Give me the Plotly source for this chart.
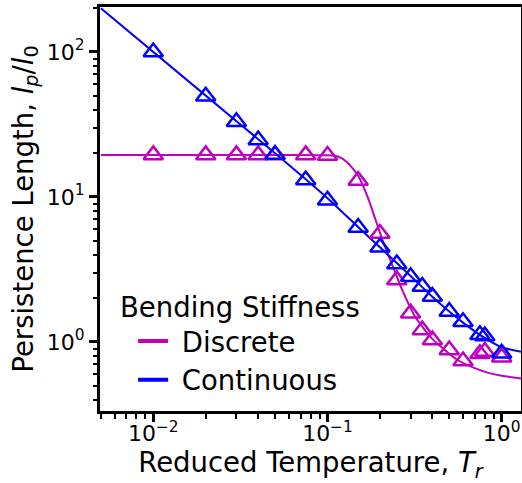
import plotly.graph_objects as go

# ---- data ----
T_cont = [0.01, 0.02, 0.03, 0.04, 0.05, 0.075, 0.1, 0.15, 0.2, 0.25, 0.3, 0.35, 0.4, 0.5, 0.6, 0.75, 0.8, 1.0]
lp_cont = [100, 49.5, 33, 24.7, 19.6, 13.1, 9.5, 6.15, 4.5, 3.45, 2.82, 2.41, 2.06, 1.62, 1.38, 1.12, 1.1, 0.835]

T_disc = [0.01, 0.02, 0.03, 0.04, 0.05, 0.075, 0.1, 0.15, 0.2, 0.25, 0.3, 0.35, 0.4, 0.5, 0.6, 0.75, 0.8, 1.0]
lp_disc = [19.5, 19.5, 19.5, 19.5, 19.5, 19.5, 19.3, 13.0, 5.6, 2.68, 1.58, 1.21, 1.03, 0.88, 0.74, 0.83, 0.86, 0.785]

# fitted curves
T_fit_cont = [0.005, 0.02, 0.05, 0.1, 0.15, 0.2, 0.25, 0.3, 0.4, 0.5, 0.6, 0.75, 1.0, 1.3]
lp_fit_cont = [200, 50, 20, 9.8, 6.2, 4.5, 3.5, 2.85, 2.05, 1.62, 1.36, 1.12, 0.92, 0.855]

T_fit_disc = [0.005, 0.05, 0.1, 0.115, 0.13, 0.15, 0.17, 0.19, 0.21, 0.24, 0.27, 0.32, 0.4, 0.55, 0.7, 0.85, 1.0, 1.3]
lp_fit_disc = [19.5, 19.5, 19.4, 19.0, 17.3, 14.0, 10.0, 6.8, 4.8, 3.2, 2.25, 1.48, 1.05, 0.76, 0.66, 0.61, 0.585, 0.56]

x_tickvals = [0.01, 0.1, 1]
x_ticktext = ["10<sup>−2</sup>", "10<sup>−1</sup>", "10<sup>0</sup>"]
y_tickvals = [1, 10, 100]
y_ticktext = ["10<sup>0</sup>", "10<sup>1</sup>", "10<sup>2</sup>"]

legend_title = "Bending Stiffness"
names = ["Discrete", "Continuous"]

MAG = "#BF00BF"
BLU = "#0000FF"
FONT = "DejaVu Sans"

fig = go.Figure()

# lines
fig.add_trace(go.Scatter(x=T_fit_disc, y=lp_fit_disc, mode="lines",
                         line=dict(color=MAG, width=2, shape="spline", smoothing=0.6),
                         showlegend=False, hoverinfo="skip"))
fig.add_trace(go.Scatter(x=T_fit_cont, y=lp_fit_cont, mode="lines",
                         line=dict(color=BLU, width=2, shape="spline", smoothing=0.6),
                         showlegend=False, hoverinfo="skip"))
# markers
fig.add_trace(go.Scatter(x=T_disc, y=lp_disc, mode="markers",
                         marker=dict(symbol="triangle-up-open", size=17, color=MAG,
                                     line=dict(width=2.5, color=MAG)),
                         showlegend=False))
fig.add_trace(go.Scatter(x=T_cont, y=lp_cont, mode="markers",
                         marker=dict(symbol="triangle-up-open", size=17, color=BLU,
                                     line=dict(width=2.5, color=BLU)),
                         showlegend=False))
# legend entries
fig.add_trace(go.Scatter(x=[None], y=[None], mode="lines", name="&nbsp;" + names[0],
                         line=dict(color=MAG, width=4)))
fig.add_trace(go.Scatter(x=[None], y=[None], mode="lines", name="&nbsp;" + names[1],
                         line=dict(color=BLU, width=4)))

minor_vals = [m * 10 ** e for e in range(-3, 3) for m in range(2, 10)]

axis_common = dict(
    type="log", showgrid=False, zeroline=False, automargin=False,
    showline=True, mirror=True, linecolor="black", linewidth=3,
    ticks="outside", ticklen=8, tickwidth=2.5, tickcolor="black",
    tickfont=dict(family=FONT, size=22, color="black"),
    minor=dict(ticks="outside", ticklen=4.5, tickwidth=1.8, tickcolor="black",
               tickmode="array", tickvals=minor_vals, showgrid=False),
)

fig.update_xaxes(**axis_common, range=[-2.306, 0.111], ticklabelstandoff=-7,
                 tickmode="array", tickvals=x_tickvals, ticktext=x_ticktext,
                 title=dict(text="Reduced Temperature, <i>T</i><sub><i>r</i></sub>",
                            font=dict(family=FONT, size=27.5, color="black"), standoff=8))
fig.update_yaxes(**axis_common, range=[-0.476, 2.31],
                 tickmode="array", tickvals=y_tickvals, ticktext=y_ticktext,
                 title=dict(text="Persistence Length, <i>l</i><sub><i>p</i></sub>/<i>l</i><sub>0</sub>",
                            font=dict(family=FONT, size=27.5, color="black"), standoff=6))

fig.update_layout(
    width=522, height=483,
    margin=dict(l=100, r=1, t=7, b=72),
    paper_bgcolor="white", plot_bgcolor="white",
    font=dict(family=FONT, color="black"),
    legend=dict(
        font=dict(family=FONT, size=27.5, color="black"),
        x=0.0786, y=0.016, xanchor="left", yanchor="bottom",
        bgcolor="rgba(255,255,255,0)", borderwidth=0,
        tracegroupgap=0, itemwidth=30,
    ),
    annotations=[dict(text=legend_title, xref="paper", yref="paper",
                      x=(118 - 100) / 420, y=(411 - 307) / 404,
                      xanchor="left", yanchor="middle", showarrow=False,
                      font=dict(family=FONT, size=27.5, color="black"))],
)

fig.write_html("out.html", config={"displayModeBar": False},
               post_script="document.body.style.margin='0';document.body.style.overflow='hidden';")
